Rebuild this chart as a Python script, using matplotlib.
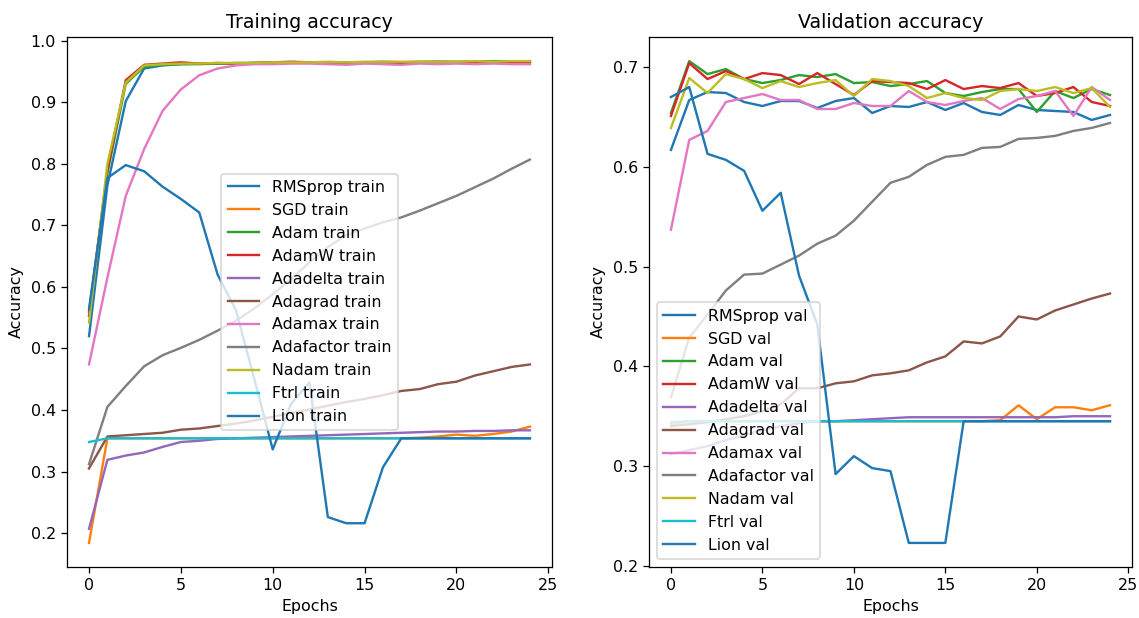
import matplotlib

matplotlib.use("Agg")
import matplotlib.pyplot as plt
import numpy as np

epochs = list(range(25))
optimizers = ["RMSprop", "SGD", "Adam", "AdamW", "Adadelta", "Adagrad",
              "Adamax", "Adafactor", "Nadam", "Ftrl", "Lion"]

# training accuracy per optimizer
rmsprop_train = [0.52, 0.765, 0.902, 0.955, 0.96, 0.962, 0.963, 0.963, 0.964, 0.964,
                 0.964, 0.965, 0.965, 0.965, 0.964, 0.965, 0.965, 0.965, 0.965, 0.966,
                 0.965, 0.966, 0.966, 0.966, 0.966]
sgd_train = [0.184, 0.354, 0.354, 0.354, 0.354, 0.354, 0.354, 0.354, 0.354, 0.354,
             0.354, 0.354, 0.354, 0.354, 0.354, 0.354, 0.354, 0.354, 0.355, 0.357,
             0.36, 0.358, 0.361, 0.365, 0.373]
adam_train = [0.56, 0.785, 0.93, 0.958, 0.961, 0.962, 0.962, 0.963, 0.963, 0.964,
              0.964, 0.964, 0.965, 0.964, 0.965, 0.965, 0.966, 0.965, 0.966, 0.966,
              0.966, 0.966, 0.967, 0.966, 0.967]
adamw_train = [0.553, 0.79, 0.936, 0.961, 0.963, 0.965, 0.963, 0.964, 0.963, 0.964,
               0.965, 0.966, 0.965, 0.964, 0.965, 0.964, 0.965, 0.964, 0.965, 0.965,
               0.964, 0.965, 0.965, 0.965, 0.965]
adadelta_train = [0.207, 0.319, 0.326, 0.331, 0.34, 0.348, 0.35, 0.353, 0.354, 0.355,
                  0.356, 0.357, 0.358, 0.359, 0.36, 0.361, 0.362, 0.363, 0.364, 0.365,
                  0.365, 0.366, 0.366, 0.367, 0.367]
adagrad_train = [0.305, 0.357, 0.359, 0.361, 0.363, 0.368, 0.37, 0.374, 0.378, 0.383,
                 0.389, 0.395, 0.401, 0.407, 0.413, 0.418, 0.424, 0.431, 0.434, 0.442,
                 0.446, 0.456, 0.463, 0.47, 0.474]
adamax_train = [0.474, 0.615, 0.748, 0.824, 0.886, 0.921, 0.944, 0.955, 0.96, 0.962,
                0.962, 0.963, 0.963, 0.962, 0.961, 0.963, 0.962, 0.961, 0.963, 0.962,
                0.963, 0.962, 0.963, 0.962, 0.962]
adafactor_train = [0.312, 0.405, 0.439, 0.471, 0.489, 0.501, 0.514, 0.529, 0.545, 0.565,
                   0.588, 0.613, 0.64, 0.665, 0.684, 0.695, 0.705, 0.713, 0.724, 0.736,
                   0.748, 0.762, 0.776, 0.792, 0.807]
nadam_train = [0.542, 0.8, 0.932, 0.96, 0.962, 0.963, 0.963, 0.964, 0.964, 0.964,
               0.965, 0.965, 0.965, 0.966, 0.965, 0.966, 0.966, 0.966, 0.966, 0.966,
               0.966, 0.967, 0.966, 0.967, 0.967]
ftrl_train = [0.348, 0.354, 0.354, 0.354, 0.354, 0.354, 0.354, 0.354, 0.354, 0.354,
              0.354, 0.354, 0.354, 0.354, 0.354, 0.354, 0.354, 0.354, 0.354, 0.354,
              0.354, 0.354, 0.354, 0.354, 0.354]
lion_train = [0.564, 0.777, 0.798, 0.788, 0.763, 0.743, 0.721, 0.62, 0.562, 0.45,
              0.336, 0.41, 0.445, 0.226, 0.216, 0.216, 0.307, 0.354, 0.354, 0.354,
              0.354, 0.354, 0.354, 0.354, 0.354]

# validation accuracy per optimizer
rmsprop_val = [0.617, 0.667, 0.675, 0.674, 0.665, 0.661, 0.666, 0.666, 0.659, 0.666,
               0.669, 0.654, 0.661, 0.66, 0.665, 0.657, 0.664, 0.655, 0.652, 0.662,
               0.657, 0.656, 0.655, 0.647, 0.652]
sgd_val = [0.342, 0.345, 0.345, 0.345, 0.345, 0.345, 0.345, 0.345, 0.345, 0.345,
           0.345, 0.345, 0.345, 0.345, 0.345, 0.345, 0.345, 0.345, 0.346, 0.361,
           0.347, 0.359, 0.359, 0.356, 0.361]
adam_val = [0.654, 0.706, 0.693, 0.698, 0.688, 0.684, 0.687, 0.692, 0.69, 0.693,
            0.684, 0.685, 0.681, 0.683, 0.686, 0.674, 0.671, 0.675, 0.678, 0.678,
            0.655, 0.676, 0.669, 0.678, 0.672]
adamw_val = [0.651, 0.704, 0.688, 0.696, 0.688, 0.694, 0.692, 0.683, 0.694, 0.683,
             0.672, 0.686, 0.685, 0.684, 0.678, 0.687, 0.678, 0.681, 0.679, 0.684,
             0.671, 0.674, 0.68, 0.665, 0.661]
adadelta_val = [0.312, 0.316, 0.32, 0.326, 0.331, 0.336, 0.34, 0.343, 0.345, 0.345,
                0.346, 0.347, 0.348, 0.349, 0.349, 0.349, 0.349, 0.349, 0.349, 0.349,
                0.349, 0.349, 0.35, 0.35, 0.35]
adagrad_val = [0.34, 0.342, 0.344, 0.347, 0.35, 0.355, 0.362, 0.378, 0.378, 0.383,
               0.385, 0.391, 0.393, 0.396, 0.404, 0.41, 0.425, 0.423, 0.43, 0.45,
               0.447, 0.456, 0.462, 0.468, 0.473]
adamax_val = [0.537, 0.627, 0.636, 0.665, 0.669, 0.673, 0.667, 0.667, 0.658, 0.658,
              0.664, 0.661, 0.661, 0.676, 0.665, 0.662, 0.666, 0.669, 0.658, 0.668,
              0.671, 0.676, 0.651, 0.68, 0.667]
adafactor_val = [0.369, 0.429, 0.452, 0.476, 0.492, 0.493, 0.502, 0.511, 0.523, 0.531,
                 0.546, 0.565, 0.584, 0.59, 0.602, 0.61, 0.612, 0.619, 0.62, 0.628,
                 0.629, 0.631, 0.636, 0.639, 0.644]
nadam_val = [0.639, 0.689, 0.674, 0.693, 0.688, 0.679, 0.686, 0.68, 0.684, 0.687,
             0.671, 0.688, 0.686, 0.681, 0.669, 0.674, 0.669, 0.667, 0.676, 0.678,
             0.676, 0.68, 0.674, 0.679, 0.66]
ftrl_val = [0.344, 0.345, 0.345, 0.345, 0.345, 0.345, 0.345, 0.345, 0.345, 0.345,
            0.345, 0.345, 0.345, 0.345, 0.345, 0.345, 0.345, 0.345, 0.345, 0.345,
            0.345, 0.345, 0.345, 0.345, 0.345]
lion_val = [0.67, 0.68, 0.613, 0.607, 0.596, 0.556, 0.574, 0.491, 0.442, 0.292,
            0.31, 0.298, 0.295, 0.223, 0.223, 0.223, 0.345, 0.345, 0.345, 0.345,
            0.345, 0.345, 0.345, 0.345, 0.345]

train_curves = [rmsprop_train, sgd_train, adam_train, adamw_train, adadelta_train,
                adagrad_train, adamax_train, adafactor_train, nadam_train,
                ftrl_train, lion_train]
val_curves = [rmsprop_val, sgd_val, adam_val, adamw_val, adadelta_val, adagrad_val,
              adamax_val, adafactor_val, nadam_val, ftrl_val, lion_val]


def main():
    # reference looks like a 10x5.4 inch figure rendered at ~114 dpi
    dpi = 114
    fig = plt.figure(figsize=(1139 / dpi, 618 / dpi), dpi=dpi)
    ax1 = fig.add_axes([0.0588, 0.0825, 0.4258, 0.8576])
    ax2 = fig.add_axes([0.5698, 0.0825, 0.4240, 0.8576])

    for name, acc in zip(optimizers, train_curves):
        ax1.plot(epochs, np.array(acc), label=f"{name} train")
    ax1.set_title("Training accuracy")
    ax1.set_xlabel("Epochs")
    ax1.set_ylabel("Accuracy")
    ax1.legend(loc="center")

    for name, acc in zip(optimizers, val_curves):
        ax2.plot(epochs, np.array(acc), label=f"{name} val")
    ax2.set_title("Validation accuracy")
    ax2.set_xlabel("Epochs")
    ax2.set_ylabel("Accuracy")
    ax2.legend(loc="lower left")

    for ax in (ax1, ax2):
        ax.set_xticks([0, 5, 10, 15, 20, 25])

    fig.savefig("out.png", dpi=dpi)


if __name__ == "__main__":
    main()
